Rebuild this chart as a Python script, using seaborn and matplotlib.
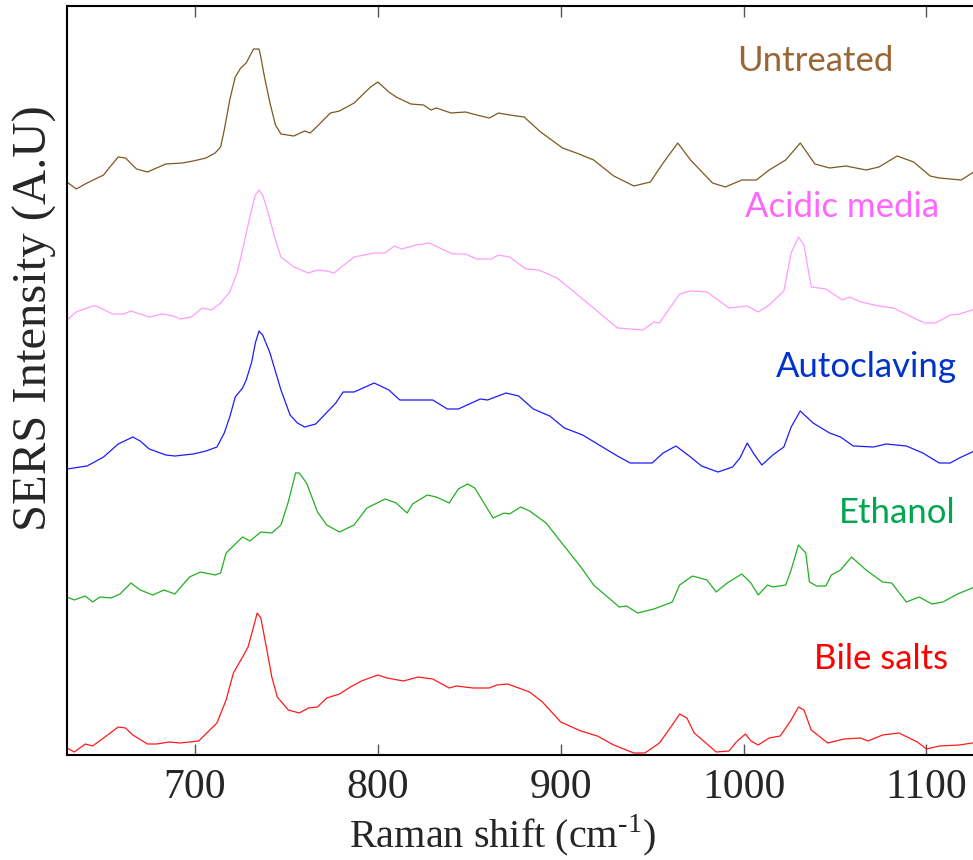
import numpy as np
import pandas as pd
import matplotlib
matplotlib.use("Agg")
import matplotlib.pyplot as plt
import seaborn as sns

# Raman shift (cm-1) and offset SERS intensity (a.u.)
untreated_x = [630, 635, 641, 650, 653, 658, 662, 668, 674, 679, 684, 693, 699, 706, 711, 714, 716,
               719, 722, 725, 728, 730, 732, 735, 736, 738, 741, 744, 747, 754, 760, 763, 767, 774,
               779, 787, 796, 800, 806, 810, 818, 825, 829, 832, 840, 848, 854, 861, 866, 872, 880,
               889, 901, 910, 918, 929, 940, 949, 956, 964, 971, 983, 990, 999, 1007, 1014, 1023,
               1031, 1039, 1047, 1056, 1067, 1074, 1084, 1093, 1102, 1107, 1119, 1125, 1127]
untreated_y = [573, 566, 572, 580, 587, 598, 597, 586, 583, 587, 591, 592, 594, 597, 602, 608, 625,
               655, 678, 687, 692, 699, 706, 706, 698, 678, 652, 630, 621, 619, 624, 622, 629, 642,
               644, 652, 668, 673, 663, 658, 651, 650, 645, 647, 642, 643, 640, 637, 642, 640, 638,
               623, 607, 601, 595, 579, 569, 573, 592, 612, 595, 572, 568, 575, 575, 585, 595,
               612, 591, 587, 589, 585, 588, 599, 593, 579, 577, 575, 582, 586]

acidic_x = [630, 635, 644, 646, 655, 661, 665, 675, 682, 688, 692, 698, 704, 709, 714, 719, 723,
            726, 730, 733, 735, 737, 740, 744, 747, 754, 762, 767, 772, 776, 787, 798, 804, 809,
            813, 821, 828, 835, 841, 848, 854, 862, 866, 872, 881, 888, 898, 916, 931, 945, 951,
            954, 965, 971, 980, 992, 1002, 1008, 1014, 1022, 1026, 1030, 1033, 1037, 1045, 1054,
            1058, 1064, 1074, 1082, 1092, 1099, 1105, 1113, 1118, 1125, 1127]
acidic_y = [435, 443, 449, 449, 441, 441, 444, 438, 441, 439, 436, 438, 447, 445, 452, 463, 482,
            505, 538, 560, 565, 560, 542, 515, 498, 488, 482, 485, 484, 482, 498, 502, 502, 509,
            506, 510, 512, 506, 501, 501, 496, 496, 500, 498, 486, 485, 477, 450, 427, 425, 433,
            432, 461, 464, 463, 447, 449, 443, 450, 464, 502, 518, 510, 468, 466, 455,
            458, 453, 449, 447, 438, 432, 432, 440, 441, 445, 447]

autoclaving_x = [630, 641, 650, 658, 666, 670, 675, 684, 689, 699, 706, 712, 716, 719, 722, 726,
                 728, 731, 733, 735, 737, 741, 747, 752, 756, 760, 766, 777, 781, 787, 798, 806,
                 812, 830, 838, 844, 856, 860, 870, 877, 885, 894, 902, 912, 921, 931, 938, 950,
                 956, 963, 971, 977, 986, 994, 998, 1002, 1006, 1010, 1016, 1022, 1026, 1031, 1038,
                 1047, 1053, 1060, 1071, 1078, 1089, 1098, 1107, 1113, 1118, 1125, 1127]
autoclaving_y = [286, 289, 298, 311, 318, 314, 306, 300, 299, 301, 304, 308, 322, 338, 358, 367,
                 375, 393, 412, 424, 420, 402, 365, 340, 332, 328, 331, 352, 363, 363, 372, 365,
                 355, 355, 346, 346, 356, 355, 362, 359, 346, 339, 327, 320, 310, 299, 292, 292,
                 302, 309, 298, 289, 283, 288, 297, 312, 300, 290, 300, 308, 328, 344, 332,
                 322, 318, 309, 308, 311, 309, 302, 292, 292, 297, 303, 305]

ethanol_x = [630, 634, 640, 644, 648, 654, 659, 665, 670, 677, 683, 689, 697, 703, 711, 714, 717,
             726, 730, 736, 742, 747, 751, 755, 757, 761, 767, 772, 779, 787, 794, 804, 810, 816,
             819, 827, 832, 839, 844, 849, 853, 856, 863, 869, 872, 878, 883, 892, 898, 911, 918,
             925, 932, 936, 942, 951, 961, 965, 972, 980, 985, 991, 999, 1004, 1008, 1013, 1016,
             1023, 1026, 1030, 1034, 1036, 1040, 1045, 1048, 1053, 1059, 1067, 1076, 1081, 1089,
             1096, 1103, 1109, 1117, 1125, 1127]
ethanol_y = [158, 155, 159, 153, 158, 157, 161, 172, 165, 160, 165, 161, 178, 183, 180, 182, 202,
             218, 214, 223, 222, 230, 253, 282, 282, 272, 243, 230, 223, 230, 247, 256, 252, 242,
             251, 260, 258, 252, 266, 271, 267, 258, 237, 242, 241, 248, 244, 232, 218, 188, 170,
             159, 148, 149, 142, 146, 153, 170, 179, 175, 163, 172, 181, 172, 160, 170, 168,
             170, 185, 210, 202, 173, 169, 169, 180, 185, 198, 185, 173, 172, 153,
             158, 151, 153, 161, 167, 169]

bile_x = [630, 634, 640, 644, 650, 658, 662, 666, 674, 679, 686, 692, 702, 712, 717, 721, 726, 729,
          732, 734, 736, 739, 742, 745, 751, 757, 762, 767, 772, 779, 785, 791, 800, 805, 814,
          822, 830, 839, 843, 852, 861, 865, 871, 883, 890, 900, 911, 920, 929, 940, 946, 954,
          961, 965, 969, 973, 980, 985, 992, 996, 1001, 1004, 1008, 1014, 1020, 1026, 1030, 1033,
          1037, 1046, 1055, 1064, 1068, 1076, 1085, 1095, 1100, 1107, 1118, 1125, 1127]
bile_y = [7, 3, 11, 9, 17, 28, 27, 20, 11, 11, 13, 12, 14, 32, 55, 82, 98, 108,
          128, 142, 137, 108, 78, 58, 45, 42, 47, 48, 57, 61, 68, 74, 80, 77, 74,
          78, 76, 67, 69, 67, 67, 70, 71, 63, 53, 33, 24, 19, 10, 2, 2, 12,
          30, 41, 37, 22, 11, 3, 4, 13, 21, 14, 10, 17, 19, 35, 48, 45,
          25, 12, 16, 17, 14, 20, 22, 13, 6, 9, 10, 12, 12]

series = [
    ("Untreated", untreated_x, untreated_y, "#7d5820"),
    ("Acidic media", acidic_x, acidic_y, "#ff9cff"),
    ("Autoclaving", autoclaving_x, autoclaving_y, "#1c1cff"),
    ("Ethanol", ethanol_x, ethanol_y, "#22b022"),
    ("Bile salts", bile_x, bile_y, "#ff1a1a"),
]

# label text, x, baseline y, colour
labels = [
    ("Untreated", 1039, 684, "#9a6636"),
    ("Acidic media", 1054, 538, "#ff66ff"),
    ("Autoclaving", 1067, 378, "#0033cc"),
    ("Ethanol", 1084, 232, "#00a650"),
    ("Bile salts", 1075, 86, "#ff0000"),
]

sns.set_style("ticks")
plt.rcParams["font.family"] = ["Liberation Serif", "DejaVu Serif"]
plt.rcParams["mathtext.fontset"] = "custom"
plt.rcParams["mathtext.rm"] = "Liberation Serif"

fig = plt.figure(figsize=(9.73, 8.6), dpi=100)
ax = fig.add_axes([67 / 973, 105 / 860, 907 / 973, 749 / 860])

for name, xs, ys, color in series:
    df = pd.DataFrame({"shift": xs, "intensity": ys})
    sns.lineplot(data=df, x="shift", y="intensity", color=color, linewidth=0.9,
                 ax=ax, estimator=None, sort=False)

for text, x, y, color in labels:
    ax.text(x, y, text, color=color, fontsize=25, ha="center", va="baseline",
            family=["Lato", "DejaVu Sans"])

ax.set_xlim(630, 1126)
ax.set_ylim(0, 749)
ax.set_xticks([700, 800, 900, 1000, 1100])
ax.set_yticks([])
ax.tick_params(axis="x", direction="in", length=8, width=1, color="#555555",
               top=True, labelsize=30, pad=10)
ax.set_xlabel("")
ax.set_ylabel("")
for side in ["left", "bottom", "top"]:
    ax.spines[side].set_linewidth(1.5)
    ax.spines[side].set_color("black")
ax.spines["right"].set_visible(False)

fig.text(502 / 973, 1 - 847 / 860, "Raman shift (cm$^{\\mathrm{\u2010}1}$)", fontsize=29,
         ha="center", va="baseline")
fig.text(35 / 973, 1 - 318 / 860, "SERS Intensity (A.U)", fontsize=35, rotation=90,
         ha="center", va="center")

plt.savefig("out.png", dpi=100)
plt.close()
